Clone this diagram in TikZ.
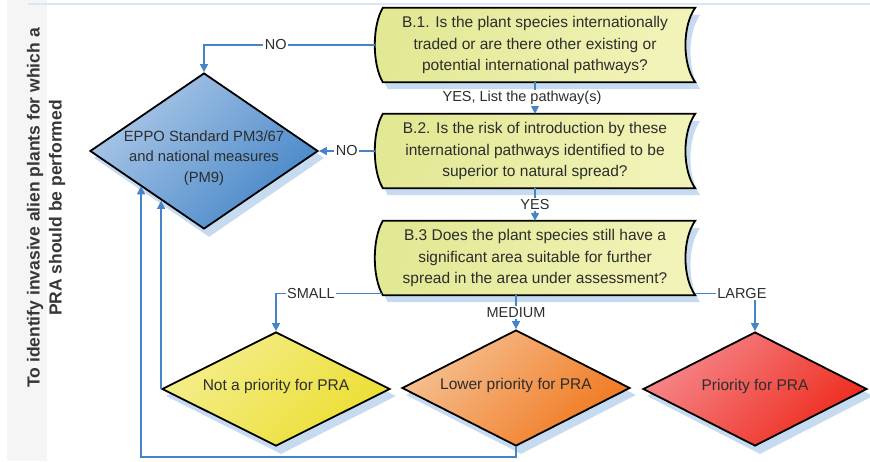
\documentclass[tikz,border=0pt]{standalone}
\usepackage{fontspec}
\setmainfont{Liberation Sans}
\usetikzlibrary{shapes.geometric,arrows.meta,calc}
\pgfdeclarelayer{background}
\pgfsetlayers{background,main}
\definecolor{conn}{RGB}{70,132,200}
\definecolor{shd}{RGB}{198,218,240}
\definecolor{txt}{RGB}{45,45,45}
\definecolor{titlec}{RGB}{55,55,55}
\definecolor{stripc}{RGB}{245,245,245}
\definecolor{topl}{RGB}{218,230,244}
\definecolor{boxA}{RGB}{226,232,148}
\definecolor{boxB}{RGB}{242,243,184}
\definecolor{eppoA}{RGB}{172,200,232}
\definecolor{eppoB}{RGB}{70,134,200}
\definecolor{notpA}{RGB}{244,238,140}
\definecolor{notpB}{RGB}{236,222,50}
\definecolor{lowA}{RGB}{246,192,146}
\definecolor{lowB}{RGB}{240,120,30}
\definecolor{prioA}{RGB}{246,136,140}
\definecolor{prioB}{RGB}{238,42,28}
\tikzset{
  conn/.style={draw=conn, line width=1.3pt, -{Triangle[length=8pt,width=8pt]}},
  lbl/.style={fill=white, inner sep=1.5pt, text=txt, font=\fontsize{14.5}{16}\selectfont},
  qbox/.style={rectangle, minimum width=320pt, minimum height=74pt, inner sep=0pt,
    align=center, text=txt, font=\fontsize{15.5}{21.5}\selectfont},
  boxshape/.style={draw=black, line width=1.8pt, left color=boxA, right color=boxB, shading angle=70},
  shadowshape/.style={fill=shd, transform canvas={xshift=5pt, yshift=-7pt}},
  dia/.style={diamond, inner sep=0pt, draw=black, line width=1.8pt},
  diatext/.style={align=center, text=txt, font=\fontsize{15.5}{20}\selectfont},
  titlestyle/.style={rotate=90, align=center, text=titlec, font=\bfseries\fontsize{17.5}{22}\selectfont},
}
\newcommand\sdpath[1]{($(#1.north west)+(8,0)$) -- (#1.north east)
  .. controls ($(#1.north east)+(-13,18)$) and ($(#1.south east)+(-13,-18)$) .. (#1.south east)
  -- ($(#1.south west)+(8,0)$)
  .. controls ($(#1.south west)+(-2.7,-18)$) and ($(#1.north west)+(-2.7,18)$) .. cycle}
\newcommand\diapath[1]{(#1.north) -- (#1.east) -- (#1.south) -- (#1.west) -- cycle}
\begin{document}
\begin{tikzpicture}[x=1pt,y=-1pt]
\useasboundingbox (0,0) rectangle (870,461);
\fill[stripc] (7,0) rectangle (47,461);
\draw[topl, line width=2pt] (28,4) -- (870,4);

% question boxes
\node[qbox] (b1) at (535,45) {B.1. Is the plant species internationally\\traded or are there other existing or\\potential international pathways?};
\node[qbox] (b2) at (535,151) {B.2. Is the risk of introduction by these\\international pathways identified to be\\superior to natural spread?};
\node[qbox] (b3) at (535,258) {B.3 Does the plant species still have a\\significant area suitable for further\\spread in the area under assessment?};

% diamonds
\node[dia, minimum width=228pt, minimum height=156pt, top color=eppoA, bottom color=eppoB, shading angle=45] (eppo) at (204,151) {};
\node[diatext, font=\fontsize{14.8}{20.5}\selectfont] (eppot) at ($(eppo.center)+(0,7)$) {EPPO Standard PM3/67\\and national measures\\(PM9)};
\node[dia, minimum width=228pt, minimum height=114pt, top color=notpA, bottom color=notpB, shading angle=45] (notp) at (276,389) {};
\node[diatext] (notpt) at ($(notp.center)+(0,-3)$) {Not a priority for PRA};
\node[dia, minimum width=228pt, minimum height=116pt, top color=lowA, bottom color=lowB, shading angle=45] (lower) at (516,388) {};
\node[diatext] (lowert) at ($(lower.center)+(0,-3)$) {Lower priority for PRA};
\node[dia, minimum width=224pt, minimum height=114pt, top color=prioA, bottom color=prioB, shading angle=45] (prio) at (755,389) {};
\node[diatext] (priot) at ($(prio.center)+(0,-3)$) {Priority for PRA};

\begin{pgfonlayer}{background}
\foreach \b in {b1,b2,b3}{
  \fill[shadowshape] \sdpath{\b};
  \path[boxshape] \sdpath{\b};
}
\foreach \d in {eppo,notp,lower,prio}{
  \fill[shadowshape] \diapath{\d};
}
\end{pgfonlayer}

% title
\node[titlestyle] (title) at (46,208) {To identify invasive alien plants for which a\\PRA should be performed};

% connectors
\draw[conn] (b1.west) -| node[lbl, pos=0.29] (lno1) {NO} (eppo.north);
\draw[conn] (b2.west) -- node[lbl] (lno2) {NO} (eppo.east);
\draw[conn] (b1.south) -- node[lbl, xshift=-13pt] (lyes1) {YES, List the pathway(s)} (b2.north);
\draw[conn] (b2.south) -- node[lbl] (lyes2) {YES} (b3.north);
\coordinate (b3sw) at ($(b3.south west)+(7,-2)$);
\coordinate (b3se) at ($(b3.south east)+(0,-2)$);
\draw[conn] (b3sw) -| node[lbl, pos=0.335] (lsmall) {SMALL} (notp.north);
\draw[conn] (b3.south -| lower.north) -- node[lbl] (lmed) {MEDIUM} (lower.north);
\draw[conn] (b3se) -| node[lbl, pos=0.39] (llarge) {LARGE} (prio.north);

% feedback loops
\coordinate (e1) at ($(eppo.west)!0.632!(eppo.south)$);
\draw[conn] (notp.west) -- (notp.west |- e1);
\coordinate (e2) at ($(eppo.west)!0.447!(eppo.south)$);
\coordinate (lp) at (141,457);
\draw[conn] (lower.south) -- (lower.south |- lp) -- (lp) -- (lp |- e2);
\end{tikzpicture}
\end{document}
